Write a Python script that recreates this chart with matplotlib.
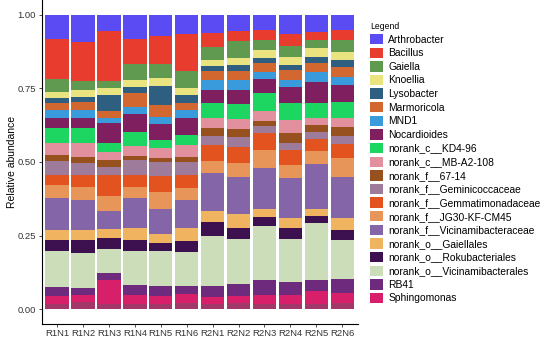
import matplotlib
matplotlib.use("Agg")
import matplotlib.pyplot as plt
from matplotlib.patches import Patch
import numpy as np

plt.rcParams['font.family'] = ['Liberation Sans', 'DejaVu Sans']

samples = ["R1N1", "R1N2", "R1N3", "R1N4", "R1N5", "R1N6",
           "R2N1", "R2N2", "R2N3", "R2N4", "R2N5", "R2N6"]

# relative abundance (%) per taxon, one value per sample
arthrobacter = [8.3, 9.2, 5.7, 8.3, 7.1, 6.5, 6.1, 5.7, 5.1, 6.5, 5.7, 5.1]
bacillus = [13.5, 13.3, 16.8, 8.4, 9.5, 12.6, 4.7, 3.2, 3.4, 4.1, 2.8, 3.4]
gaiella = [4.3, 3.1, 2.5, 5.4, 4.9, 5.9, 4.5, 5.8, 3.4, 3.7, 2.8, 4.1]
knoellia = [2.2, 2.3, 2.3, 2.3, 2.9, 2.3, 2.0, 2.4, 2.8, 2.7, 3.0, 2.7]
lysobacter = [1.7, 1.7, 5.4, 2.1, 6.2, 2.8, 1.9, 2.0, 1.7, 1.7, 2.1, 2.3]
marmoricola = [2.4, 2.8, 2.5, 4.8, 4.1, 2.4, 3.0, 3.1, 2.9, 3.4, 2.9, 3.7]
mnd1 = [2.7, 2.8, 1.7, 2.4, 2.4, 2.7, 3.2, 3.4, 2.5, 2.4, 3.5, 2.7]
nocardioides = [3.4, 3.4, 6.8, 6.1, 5.4, 5.7, 4.5, 4.8, 4.9, 5.5, 7.2, 5.6]
kd4_96 = [5.1, 5.1, 2.9, 4.8, 2.8, 3.4, 5.1, 4.9, 6.0, 5.7, 5.1, 5.5]
mb_a2_108 = [4.1, 4.6, 2.8, 3.4, 3.3, 4.1, 3.4, 3.6, 3.4, 4.5, 2.3, 3.1]
f_67_14 = [1.9, 2.2, 2.3, 1.4, 1.4, 1.7, 2.9, 2.7, 1.7, 3.4, 2.3, 2.9]
geminicoccaceae = [4.9, 4.0, 2.8, 5.1, 4.8, 4.4, 2.8, 3.4, 2.4, 2.3, 2.5, 2.7]
gemmatimonadaceae = [3.4, 4.0, 7.1, 4.0, 5.4, 4.4, 5.4, 5.4, 5.8, 5.1, 4.1, 4.8]
jg30_kf_cm45 = [4.4, 4.5, 5.1, 3.9, 5.8, 4.3, 4.3, 4.8, 6.1, 4.4, 4.4, 6.3]
vicinamibacteraceae = [10.9, 10.2, 6.1, 10.2, 8.5, 9.4, 12.9, 12.6, 13.9, 13.6, 15.3, 14.1]
gaiellales = [3.4, 3.4, 3.1, 4.0, 3.1, 4.3, 3.7, 4.6, 2.6, 3.4, 2.4, 3.9]
rokubacteriales = [3.6, 4.5, 3.8, 3.6, 2.6, 3.9, 4.8, 4.0, 3.2, 3.8, 2.4, 3.7]
vicinamibacterales = [12.3, 11.9, 8.2, 11.5, 11.9, 11.4, 17.0, 15.0, 18.4, 14.4, 19.4, 13.2]
rb41 = [3.0, 2.3, 2.3, 3.6, 3.6, 2.9, 3.6, 4.1, 5.1, 4.6, 3.7, 4.7]
sphingomonas = [2.5, 2.3, 8.2, 2.8, 2.7, 3.1, 2.2, 2.6, 2.8, 2.8, 4.2, 3.4]
others = [1.9, 2.5, 1.7, 1.9, 1.7, 2.0, 1.9, 2.0, 1.9, 1.9, 1.9, 2.0]

taxa = ["Arthrobacter", "Bacillus", "Gaiella", "Knoellia", "Lysobacter",
        "Marmoricola", "MND1", "Nocardioides", "norank_c__KD4-96",
        "norank_c__MB-A2-108", "norank_f__67-14", "norank_f__Geminicoccaceae",
        "norank_f__Gemmatimonadaceae", "norank_f__JG30-KF-CM45",
        "norank_f__Vicinamibacteraceae", "norank_o__Gaiellales",
        "norank_o__Rokubacteriales", "norank_o__Vicinamibacterales",
        "RB41", "Sphingomonas"]
values = [arthrobacter, bacillus, gaiella, knoellia, lysobacter, marmoricola,
          mnd1, nocardioides, kd4_96, mb_a2_108, f_67_14, geminicoccaceae,
          gemmatimonadaceae, jg30_kf_cm45, vicinamibacteraceae, gaiellales,
          rokubacteriales, vicinamibacterales, rb41, sphingomonas]

colors = ["#5A4CF2", "#E83C2E", "#5F9A50", "#E9E47F", "#2E5F80",
          "#D2682F", "#3A9BDC", "#801F60", "#1DD662", "#E3909E",
          "#96511F", "#9E7B9B", "#E2531F", "#E8955A", "#8466A8",
          "#F0B460", "#3D1150", "#CCDDB9", "#6E2A7C", "#D81F6A"]
others_color = "#A2386A"

fig = plt.figure(figsize=(5.5, 3.42), dpi=100)
ax = fig.add_axes([0.0755, 0.053, 0.575, 0.947])

data = np.array(values + [others], dtype=float)
data = data / data.sum(axis=0)
x = np.arange(len(samples))

# stack from bottom: others, Sphingomonas, ..., Arthrobacter on top
bottom = np.zeros(len(samples))
stack_colors = colors + [others_color]
for i in range(len(data) - 1, -1, -1):
    ax.bar(x, data[i], 0.9, bottom=bottom, color=stack_colors[i], linewidth=0)
    bottom += data[i]

ax.set_xlim(-0.6, len(samples) - 0.4)
ax.set_ylim(-0.05, 1.05)
ax.set_yticks([0, 0.25, 0.5, 0.75, 1.0])
ax.set_yticklabels(["0.00", "0.25", "0.50", "0.75", "1.00"])
ax.set_xticks(x)
ax.set_xticklabels(samples)
ax.tick_params(axis='both', labelsize=6.8, colors='#333333', length=2.5, width=0.6, pad=1.5)
for s in ['top', 'right']:
    ax.spines[s].set_visible(False)
for s in ['left', 'bottom']:
    ax.spines[s].set_linewidth(0.8)
    ax.spines[s].set_color('black')
ax.set_ylabel("Relative abundance", fontsize=7.5)
ax.yaxis.set_label_coords(-0.078, 0.5)

handles = [Patch(facecolor=c, edgecolor='none') for c in colors]
leg = fig.legend(handles, taxa, loc='upper left', bbox_to_anchor=(370 / 550, 1 - 22 / 342),
                 frameon=False, fontsize=7.4, title="Legend", title_fontsize=6.2,
                 handlelength=1.26, handleheight=1.17, labelspacing=0.29,
                 handletextpad=0.5, borderpad=0, borderaxespad=0, alignment='left')

fig.savefig("out.png", dpi=100)
